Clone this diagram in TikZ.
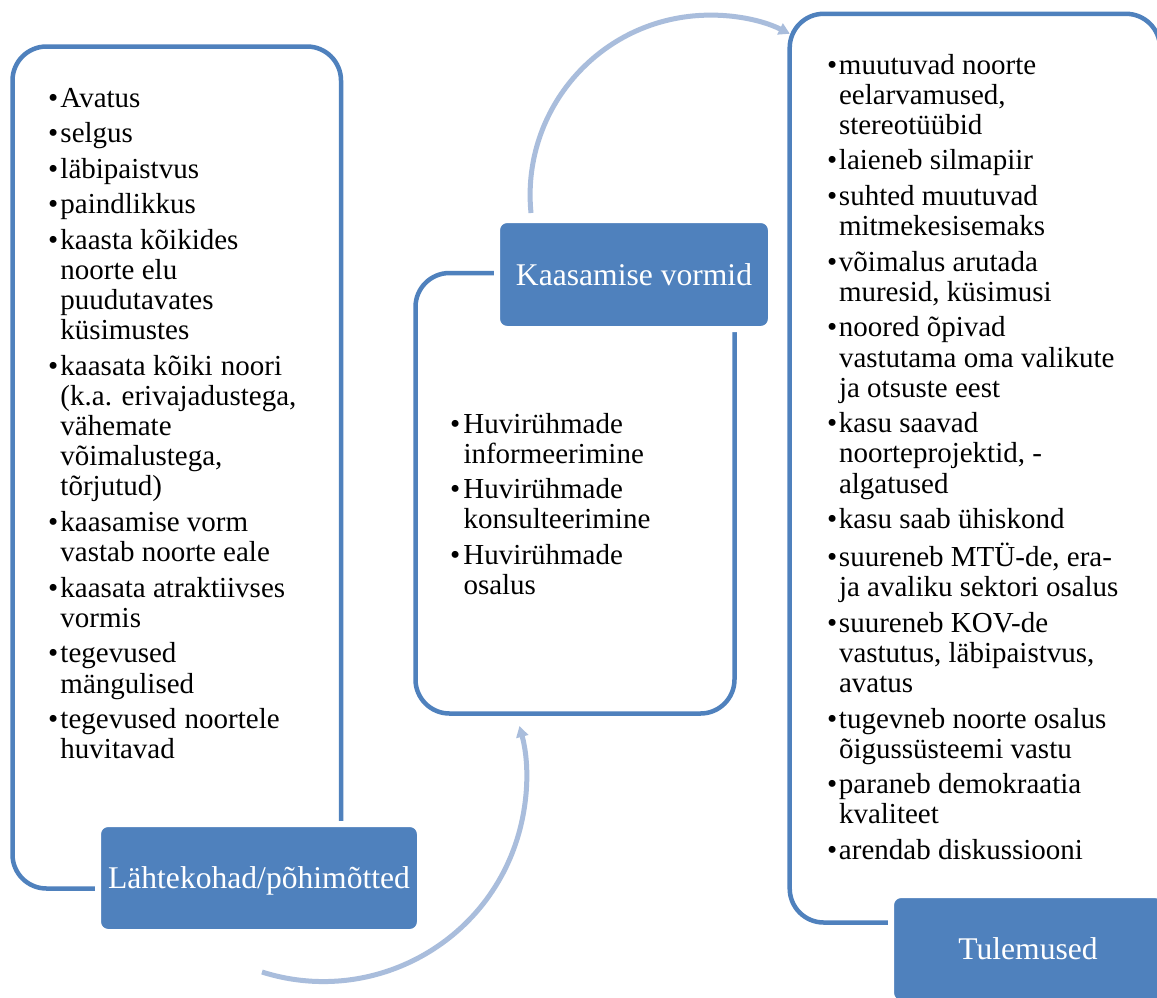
\documentclass[tikz,border=0pt]{standalone}
\usepackage{fontspec}
\setmainfont{Liberation Serif}
\usetikzlibrary{arrows.meta}

\definecolor{accent}{HTML}{4F81BD}
\definecolor{flowblue}{HTML}{A9BDDC}

% bullet list typeset as a two-column tabular (bullet | text)
\newcommand{\listfont}{\fontsize{29}{30.2}\selectfont}

\tikzset{
  frame/.style={draw=accent, line width=4.5pt, rounded corners=34pt,
                inner sep=0pt, outer sep=0pt},
  heading/.style={fill=accent, draw=white, line width=6pt, rounded corners=10pt,
                  text=white, font=\fontsize{31.6}{36}\selectfont,
                  text height=21pt, text depth=0pt, inner sep=0pt, align=center},
  listtext/.style={anchor=base west, inner sep=0pt, outer sep=0pt, font=\listfont},
  flow/.style={draw=flowblue, line width=5pt,
               -{Triangle[length=11pt,width=12pt]}}
}

\begin{document}
\begin{tikzpicture}[x=1pt, y=-1pt]
  \useasboundingbox (0,0) rectangle (1157,997);
  \fill[white] (0,0) rectangle (1157,997);

  % outline frames
  \node[frame, minimum width=328.5pt, minimum height=842pt] (leftframe) at (176.75,467.5) {};
  \node[frame, minimum width=319pt, minimum height=440.5pt] (midframe) at (575,493.25) {};
  \node[frame, minimum width=370.3pt, minimum height=908.7pt] (rightframe) at (974.85,468.15) {};

  % heading boxes
  \node[heading, minimum width=322pt, minimum height=108pt] (principles) at (259,878) {Lähtekohad/põhimõtted};
  \node[heading, minimum width=274pt, minimum height=109pt] (forms) at (634,274.5) {Kaasamise vormid};
  \node[heading, minimum width=274pt, minimum height=108pt] (results) at (1028,949) {Tulemused};

  % left list
  \node[listtext] (principlelist) at (48,107) {%
    \begin{tabular}[t]{@{}p{12.5pt}@{}l@{}}
      \textbullet & Avatus\\[5.3pt]
      \textbullet & selgus\\[5.3pt]
      \textbullet & läbipaistvus\\[5.3pt]
      \textbullet & paindlikkus\\[5.3pt]
      \textbullet & kaasta kõikides\\
                  & noorte elu\\
                  & puudutavates\\
                  & küsimustes\\[5.3pt]
      \textbullet & kaasata kõiki\hspace{1pt} noori\\
                  & (k.a. erivajadustega,\\
                  & vähemate\\
                  & võimalustega,\\
                  & tõrjutud)\\[5.3pt]
      \textbullet & kaasamise vorm\\
                  & vastab noorte eale\\[5.3pt]
      \textbullet & kaasata atraktiivses\\
                  & vormis\\[5.3pt]
      \textbullet & tegevused\\
                  & mängulised\\[5.3pt]
      \textbullet & tegevused\hspace{1pt} noortele\\
                  & huvitavad
    \end{tabular}};

  % middle list
  \node[listtext] (formlist) at (450,433) {%
    \begin{tabular}[t]{@{}p{13.5pt}@{}l@{}}
      \textbullet & Huvirühmade\\
                  & informeerimine\\[5.3pt]
      \textbullet & Huvirühmade\\
                  & konsulteerimine\\[5.3pt]
      \textbullet & Huvirühmade\\
                  & osalus
    \end{tabular}};

  % right list
  \node[listtext] (resultlist) at (827,74) {%
    \begin{tabular}[t]{@{}p{12pt}@{}l@{}}
      \textbullet & muutuvad noorte\\
                  & eelarvamused,\\
                  & stereotüübid\\[5.3pt]
      \textbullet & laieneb silmapiir\\[5.3pt]
      \textbullet & suhted muutuvad\\
                  & mitmekesisemaks\\[5.3pt]
      \textbullet & võimalus arutada\\
                  & muresid, küsimusi\\[5.3pt]
      \textbullet & noored õpivad\\
                  & vastutama oma valikute\\
                  & ja otsuste eest\\[5.3pt]
      \textbullet & kasu saavad\\
                  & noorteprojektid, -\\
                  & algatused\\[5.3pt]
      \textbullet & kasu saab ühiskond\\[5.3pt]
      \textbullet & suureneb MTÜ-de, era-\\
                  & ja avaliku sektori osalus\\[5.3pt]
      \textbullet & suureneb KOV-de\\
                  & vastutus, läbipaistvus,\\
                  & avatus\\[5.3pt]
      \textbullet & tugevneb noorte osalus\\
                  & õigussüsteemi vastu\\[5.3pt]
      \textbullet & paraneb demokraatia\\
                  & kvaliteet\\[5.3pt]
      \textbullet & arendab diskussiooni
    \end{tabular}};

  % curved flow arrows
  \coordinate (flowAstart) at (531,213);
  \coordinate (flowBstart) at (262,972);
  \draw[flow] (flowAstart) arc[start angle=174.3, end angle=296.3, radius=180];
  \draw[flow] (flowBstart) arc[start angle=107.6, end angle=-15, radius=203];
\end{tikzpicture}
\end{document}
